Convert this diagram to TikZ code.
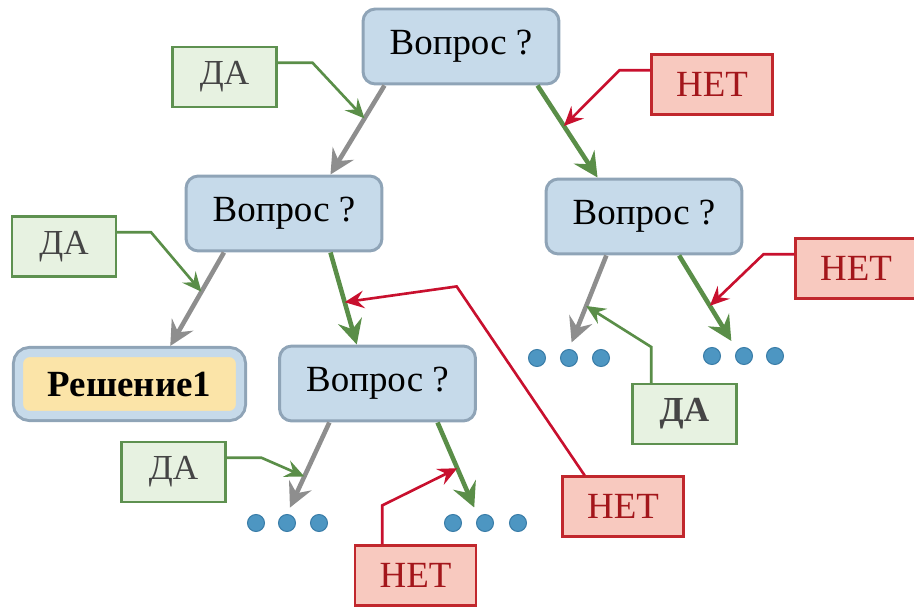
\documentclass[tikz,border=0pt]{standalone}
\usepackage{fontspec}
\setmainfont{Liberation Serif}
\usetikzlibrary{arrows.meta}
\definecolor{qfill}{HTML}{C6DAEA}
\definecolor{qline}{HTML}{8FA4B7}
\definecolor{afill}{HTML}{FBE4A8}
\definecolor{yfill}{HTML}{E7F2E1}
\definecolor{yline}{HTML}{5E9150}
\definecolor{ytext}{HTML}{454545}
\definecolor{nfill}{HTML}{F8C9BF}
\definecolor{nline}{HTML}{C1272D}
\definecolor{ntext}{HTML}{A3161B}
\definecolor{grayc}{HTML}{8E8E8E}
\definecolor{greenc}{HTML}{5A8E48}
\definecolor{redc}{HTML}{C8102E}
\definecolor{dotc}{HTML}{4D96C2}
\definecolor{dotline}{HTML}{3A7DA8}
\tikzset{
  question/.style={draw=qline, fill=qfill, line width=1.7pt, rounded corners=7pt,
    minimum width=3.92cm, minimum height=1.5cm, font=\fontsize{21}{25}\selectfont},
  answer/.style={draw=qfill, fill=afill, line width=4.6pt, rounded corners=6pt,
    minimum width=4.42cm, minimum height=1.24cm, outer sep=4pt,
    preaction={draw=qline, line width=8pt},
    font=\bfseries\fontsize{21}{25}\selectfont},
  yesbox/.style={draw=yline, fill=yfill, line width=1.2pt, minimum width=2.08cm,
    minimum height=1.2cm, text=ytext, font=\fontsize{20}{24}\selectfont},
  nobox/.style={draw=nline, fill=nfill, line width=1.2pt, minimum width=2.42cm,
    minimum height=1.2cm, text=ntext, font=\fontsize{21}{25}\selectfont},
  ellipsisdot/.style={circle, fill=dotc, draw=dotline, line width=0.6pt,
    minimum size=0.34cm, inner sep=0pt},
  yesedge/.style={draw=grayc, line width=2.6pt, -{Stealth[length=14pt,width=14pt,inset=5pt]}},
  noedge/.style={draw=greenc, line width=2.6pt, -{Stealth[length=14pt,width=14pt,inset=5pt]}},
  yescall/.style={draw=greenc, line width=1.5pt, -{Stealth[length=11pt,width=10pt,inset=4pt]}},
  nocall/.style={draw=redc, line width=1.5pt, -{Stealth[length=11pt,width=10pt,inset=4pt]}}
}
\begin{document}
\begin{tikzpicture}[x=0.02cm, y=-0.02cm]
    \useasboundingbox (0,0) rectangle (914,608);
    \node[question] (q1) at (461,46.5) {Вопрос ?};
    \node[question] (q2) at (284,213.5) {Вопрос ?};
    \node[question] (q3) at (644,216.5) {Вопрос ?};
    \node[question] (q4) at (377.5,383.5) {Вопрос ?};
    \node[answer] (res1) at (129.5,384) {Решение1};
    \node[ellipsisdot] (d1a) at (256,523) {};
    \node[ellipsisdot] (d1b) at (287,523) {};
    \node[ellipsisdot] (d1c) at (319,523) {};
    \node[ellipsisdot] (d2a) at (453,523) {};
    \node[ellipsisdot] (d2b) at (485,523) {};
    \node[ellipsisdot] (d2c) at (518,523) {};
    \node[ellipsisdot] (d3a) at (537,358) {};
    \node[ellipsisdot] (d3b) at (569,358) {};
    \node[ellipsisdot] (d3c) at (601,358) {};
    \node[ellipsisdot] (d4a) at (712,356) {};
    \node[ellipsisdot] (d4b) at (744,356) {};
    \node[ellipsisdot] (d4c) at (775,356) {};
    \draw[yesedge] (q1.207.5) -- coordinate[pos=0.37] (e1l) (q2.40.4);
    \draw[noedge] (q1.333.7) -- coordinate[pos=0.44] (e1r) (q3.140.7);
    \draw[yesedge] (q2.213.8) -- coordinate[pos=0.42] (e2l) (res1.43.5);
    \draw[noedge] (q2.320.8) -- coordinate[pos=0.54] (e2r) (q4.118.1);
    \draw[yesedge, shorten >=4pt] (q3.226.1) -- coordinate[pos=0.54] (e3l) (d3b.north);
    \draw[noedge, shorten >=4pt] (q3.312.3) -- coordinate[pos=0.55] (e3r) ([xshift=-0.18cm]d4b.north);
    \draw[yesedge, shorten >=4pt] (q4.219.8) -- coordinate[pos=0.59] (e4l) (d1b.north);
    \draw[noedge, shorten >=4pt] (q4.327.1) -- coordinate[pos=0.5] (e4r) ([xshift=-0.16cm]d2b.north);
    \node[yesbox] (da1) at (224.5,77) {ДА};
    \node[yesbox] (da2) at (64,246.5) {ДА};
    \node[yesbox] (da3) at (173.5,472) {ДА};
    \node[yesbox, font=\bfseries\fontsize{20}{24}\selectfont] (da4) at (684.5,414) {ДА};
    \node[nobox] (net1) at (712,84.5) {НЕТ};
    \node[nobox] (net2) at (856,268.5) {НЕТ};
    \node[nobox] (net3) at (623,506.5) {НЕТ};
    \node[nobox] (net4) at (415.5,575.5) {НЕТ};
    \draw[yescall] (da1.15) -- ++(35,0) -- (e1l);
    \draw[yescall] (da2.15) -- ++(34,0) -- (e2l);
    \draw[yescall] (da3.15) -- ++(35,0) -- (e4l);
    \draw[yescall] (da4.137) -- ++(0,-36) -- (e3l);
    \draw[nocall] (net1.167) -- ++(-31,0) -- (e1r);
    \draw[nocall] (net2.167) -- ++(-31,0) -- (e3r);
    \draw[nocall] (net3.141) -- ++(-128,-189) -- (e2r);
    \draw[nocall] (net4.137) -- ++(0,-39) -- (e4r);
\end{tikzpicture}
\end{document}
